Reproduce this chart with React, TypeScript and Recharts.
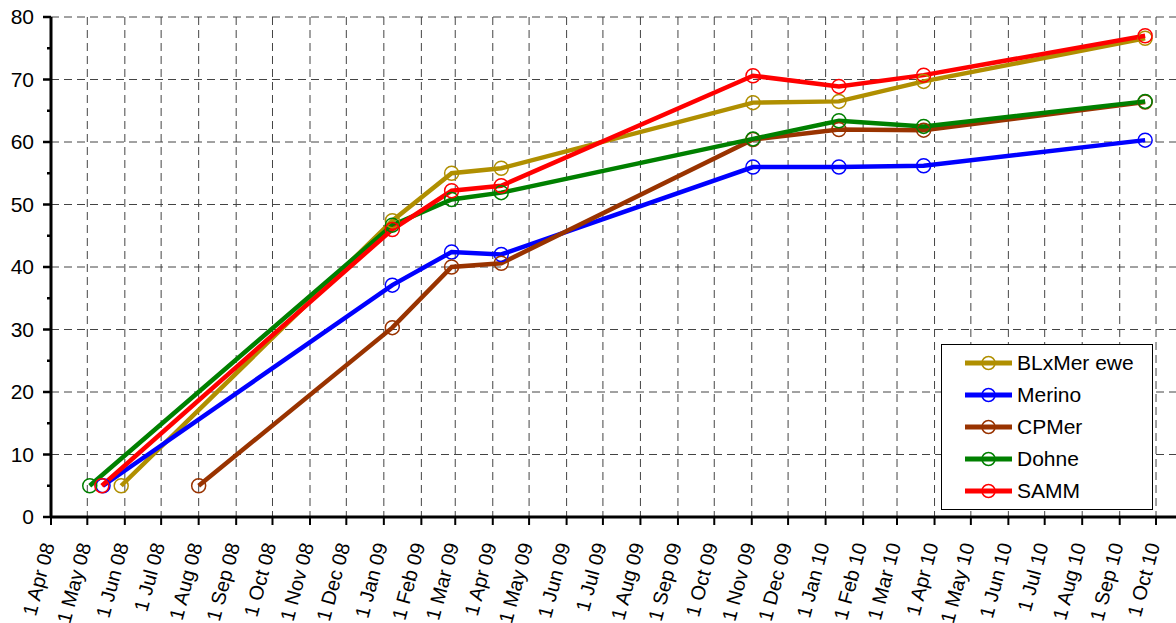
import React from "react";
import {
  LineChart,
  Line,
  XAxis,
  YAxis,
  CartesianGrid,
  Legend,
} from "recharts";

// sampling dates (first date differs per breed, later dates are shared)
const laterDates = [
  "2009-01-08",
  "2009-02-26",
  "2009-04-08",
  "2009-11-02",
  "2010-01-12",
  "2010-03-23",
  "2010-09-22",
];

const seriesNames = ["BLxMer ewe", "Merino", "CPMer", "Dohne", "SAMM"];
const seriesColors = ["#B08F00", "#0000FF", "#993300", "#008000", "#FF0000"];
const firstDates = ["2008-05-29", "2008-05-14", "2008-08-01", "2008-05-03", "2008-05-13"];

const blxmerValues = [5, 47.4, 55.0, 55.8, 66.3, 66.5, 69.7, 76.6];
const merinoValues = [5, 37.1, 42.4, 42.0, 56.0, 56.0, 56.2, 60.3];
const cpmerValues = [5, 30.3, 40.0, 40.6, 60.4, 62.0, 61.9, 66.4];
const dohneValues = [5, 46.7, 50.8, 51.9, 60.5, 63.4, 62.5, 66.5];
const sammValues = [5, 46.0, 52.2, 53.0, 70.6, 68.9, 70.7, 77.0];

const seriesValues = [blxmerValues, merinoValues, cpmerValues, dohneValues, sammValues];

const tickDates = [
  "2008-04-01", "2008-05-01", "2008-06-01", "2008-07-01", "2008-08-01",
  "2008-09-01", "2008-10-01", "2008-11-01", "2008-12-01", "2009-01-01",
  "2009-02-01", "2009-03-01", "2009-04-01", "2009-05-01", "2009-06-01",
  "2009-07-01", "2009-08-01", "2009-09-01", "2009-10-01", "2009-11-01",
  "2009-12-01", "2010-01-01", "2010-02-01", "2010-03-01", "2010-04-01",
  "2010-05-01", "2010-06-01", "2010-07-01", "2010-08-01", "2010-09-01",
  "2010-10-01",
];
const domainStart = "2008-04-01";
const domainEnd = "2010-10-17T12:00:00Z";

const yTicks = [0, 5, 10, 15, 20, 25, 30, 35, 40, 45, 50, 55, 60, 65, 70, 75, 80];
const yGrid = [10, 20, 30, 40, 50, 60, 70, 80];

const monthNames = ["Jan", "Feb", "Mar", "Apr", "May", "Jun", "Jul", "Aug", "Sep", "Oct", "Nov", "Dec"];

const toTime = (s: string) => new Date(s).getTime();
const FONT = "Arial, 'Liberation Sans', sans-serif";

const series = seriesNames.map((name, i) => ({
  name,
  color: seriesColors[i],
  data: [firstDates[i], ...laterDates].map((d, j) => ({ t: toTime(d), v: seriesValues[i][j] })),
}));

const xTicks = tickDates.map(toTime);

function formatDate(t: number) {
  const d = new Date(t);
  const yy = String(d.getUTCFullYear() % 100).padStart(2, "0");
  return `${d.getUTCDate()} ${monthNames[d.getUTCMonth()]} ${yy}`;
}

function XTick(props: any) {
  const { x, y, payload } = props;
  const ax = x + 4;
  const ay = y + 28;
  return (
    <g>
      <line x1={x} y1={y} x2={x} y2={y + 8} stroke="#000" strokeWidth={2} />
      <text
        x={ax}
        y={ay}
        textAnchor="end"
        fontSize={20}
        fontFamily={FONT}
        fill="#000"
        transform={`rotate(-75, ${ax}, ${ay})`}
      >
        {formatDate(payload.value)}
      </text>
    </g>
  );
}

function YTick(props: any) {
  const { x, y, payload } = props;
  const major = payload.value % 10 === 0;
  return (
    <g>
      <line x1={x - (major ? 8 : 4)} y1={y} x2={x} y2={y} stroke="#000" strokeWidth={2.5} />
      {major && (
        <text x={x - 17} y={y + 7} textAnchor="end" fontSize={21} fontFamily={FONT} fill="#000">
          {payload.value}
        </text>
      )}
    </g>
  );
}

function LegendBox() {
  return (
    <div
      style={{
        width: 212,
        height: 166,
        border: "1.5px solid #000",
        background: "#fff",
        fontFamily: FONT,
        fontSize: 21,
        boxSizing: "border-box",
        paddingTop: 2,
      }}
    >
      {series.map((s) => (
        <div key={s.name} style={{ display: "flex", alignItems: "center", height: 32 }}>
          <svg width={75} height={20} style={{ flex: "none" }}>
            <line x1={23} y1={10} x2={70} y2={10} stroke={s.color} strokeWidth={5} />
            <circle cx={46.5} cy={10} r={6.5} fill="none" stroke={s.color} strokeWidth={1.5} />
          </svg>
          <span>{s.name}</span>
        </div>
      ))}
    </div>
  );
}

export default function App() {
  return (
    <div style={{ position: "absolute", left: 0, top: 0, background: "#fff" }}>
      <LineChart width={1176} height={623} margin={{ top: 17, right: 0, bottom: 0, left: 0 }}>
        <CartesianGrid
          stroke="#444"
          strokeDasharray="8 5"
          horizontalValues={yGrid}
          verticalValues={xTicks.slice(1)}
        />
        <XAxis
          type="number"
          dataKey="t"
          scale="linear"
          domain={[toTime(domainStart), toTime(domainEnd)]}
          ticks={xTicks}
          interval={0}
          allowDataOverflow
          tickLine={false}
          tickSize={0}
          tickMargin={0}
          height={106}
          axisLine={{ stroke: "#000", strokeWidth: 3 }}
          tick={<XTick />}
        />
        <YAxis
          type="number"
          domain={[0, 80]}
          ticks={yTicks}
          interval={0}
          width={51}
          tickLine={false}
          tickSize={0}
          tickMargin={0}
          axisLine={{ stroke: "#000", strokeWidth: 3 }}
          tick={<YTick />}
        />
        <Legend
          layout="vertical"
          align="center"
          verticalAlign="middle"
          wrapperStyle={{ left: 941, top: 344, width: 212 }}
          content={() => <LegendBox />}
        />
        {series.map((s) => (
          <Line
            key={s.name}
            data={s.data}
            dataKey="v"
            name={s.name}
            type="linear"
            stroke={s.color}
            strokeWidth={4.5}
            dot={{ r: 7, stroke: s.color, strokeWidth: 1.5, fill: "none" }}
            activeDot={false}
            isAnimationActive={false}
          />
        ))}
      </LineChart>
    </div>
  );
}
